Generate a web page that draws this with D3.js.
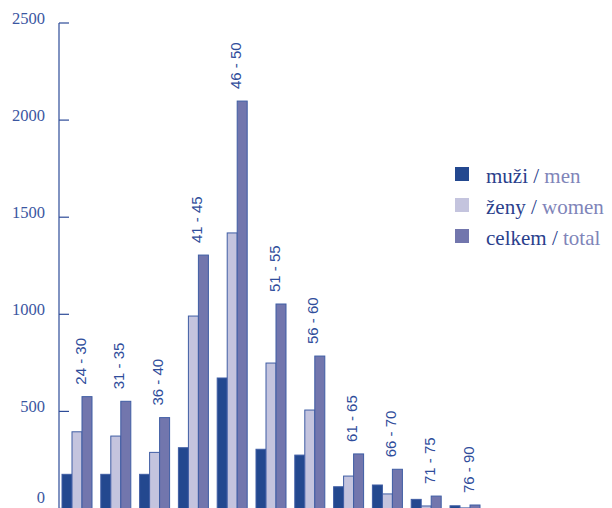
<!DOCTYPE html>
<html>
<head>
<meta charset="utf-8">
<script src="https://cdnjs.cloudflare.com/ajax/libs/d3/7.8.5/d3.min.js"></script>
<style>
  body { margin: 0; background: #fff; }
  svg { display: block; }
</style>
</head>
<body>
<div id="chart"></div>
<script>
// data
var groups = ["24 - 30", "31 - 35", "36 - 40", "41 - 45", "46 - 50", "51 - 55",
              "56 - 60", "61 - 65", "66 - 70", "71 - 75", "76 - 90"];
var men   = [176, 176, 176, 313, 672, 305, 275, 112, 121, 47, 14];
var women = [395, 373, 289, 991, 1419, 749, 507, 167, 75, 13, 3];
var total = [576, 552, 468, 1305, 2098, 1053, 785, 281, 202, 64, 18];
var yTicks = [0, 500, 1000, 1500, 2000, 2500];
var seriesCz = ["muži", "ženy", "celkem"];
var seriesEn = ["men", "women", "total"];

var w = 612, h = 508;
var serif = "'Liberation Serif', 'Times New Roman', serif";
var sans = "'Liberation Sans', Arial, sans-serif";
var colors = ["#23488f", "#c4c4de", "#7276ad"];
var svg = d3.select("#chart").append("svg")
    .attr("width", w).attr("height", h);

var y = d3.scaleLinear().domain([0, 2500]).range([508.5, 23]);
var x0 = d3.scaleBand().domain(groups).range([62, 62 + 38.8 * 11]).paddingInner(0).paddingOuter(0);
var barW = 10;

// axis
svg.append("line")
    .attr("x1", 59).attr("x2", 59)
    .attr("y1", y(2500)).attr("y2", h)
    .attr("stroke", "#2d4b98").attr("stroke-width", 1.2);
svg.selectAll(".tick").data(yTicks).enter().append("line")
    .attr("x1", 59).attr("x2", 69)
    .attr("y1", function(d){ return y(d); })
    .attr("y2", function(d){ return y(d); })
    .attr("stroke", "#2d4b98").attr("stroke-width", 1.2);
svg.selectAll(".tlabel").data(yTicks).enter().append("text")
    .style("font-family", serif)
    .attr("x", 45)
    .attr("y", function(d){ return Math.min(y(d) + 0.5, 503); })
    .attr("text-anchor", "end")
    .attr("font-size", 16.5)
    .attr("fill", "#3b56a1")
    .text(function(d){ return d; });

// bars
var series = [men, women, total];
var g = svg.append("g");
series.forEach(function(vals, s){
    g.selectAll(".b" + s).data(vals).enter().append("rect")
        .attr("x", function(d, i){ return x0(groups[i]) + s * barW; })
        .attr("y", function(d){ return y(d); })
        .attr("width", barW)
        .attr("height", function(d){ return Math.max(0, y(0) - y(d)); })
        .attr("fill", colors[s])
        .attr("stroke", "#3f5da4")
        .attr("stroke-width", 1);
});

// group labels above total bar
svg.selectAll(".glabel").data(groups).enter().append("text")
    .style("font-family", sans)
    .attr("transform", function(d, i){
        var gx = x0(d) + 2 * barW + 3.5;
        var gy = y(total[i]) - 12;
        return "translate(" + gx + "," + gy + ") rotate(-90)";
    })
    .attr("font-size", 15)
    .attr("fill", "#2f4d9b")
    .text(function(d){ return d; });

// legend
var leg = svg.append("g");
seriesCz.forEach(function(name, i){
    var ly = 183 + i * 31;
    leg.append("rect")
        .attr("x", 455).attr("y", ly - 16)
        .attr("width", 14).attr("height", 14)
        .attr("fill", colors[i]);
    var t = leg.append("text")
        .style("font-family", serif)
        .attr("x", 486).attr("y", ly)
        .attr("font-size", 21);
    t.append("tspan").attr("fill", "#2a408c").text(name + " / ");
    t.append("tspan").attr("fill", "#7f85b9").text(seriesEn[i]);
});
</script>
</body>
</html>
